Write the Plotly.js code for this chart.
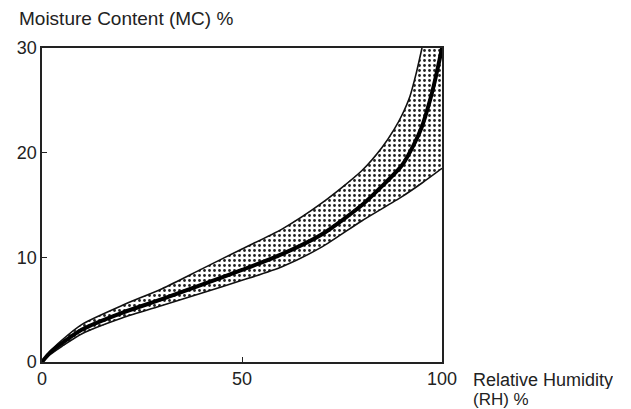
<!DOCTYPE html>
<html>
<head>
<meta charset="utf-8">
<script src="https://cdn.plot.ly/plotly-3.0.1.min.js"></script>
<style>html,body{margin:0;padding:0;background:#fff;}#chart{width:631px;height:409px;}</style>
</head>
<body>
<div id="chart"></div>
<script>
// Relative humidity (%) and moisture content (%)
const upperRH = [0, 2, 5, 10, 20, 30, 40, 50, 60, 70, 80, 85, 88, 90, 92, 93.5, 95];
const upperMC = [0, 1.0, 2.1, 3.6, 5.4, 7.0, 8.9, 10.8, 12.7, 15.2, 18.3, 20.5, 22.2, 23.6, 25.4, 27.5, 30];
const lowerRH = [0, 2, 5, 10, 20, 30, 40, 50, 60, 70, 80, 90, 95, 100];
const lowerMC = [0, 0.7, 1.5, 2.7, 4.2, 5.4, 6.6, 7.8, 9.1, 11.0, 13.5, 15.8, 17.1, 18.5];
const meanRH = [0, 2, 5, 10, 20, 30, 40, 50, 60, 70, 80, 85, 90, 93, 95, 97, 98, 99, 100];
const meanMC = [0, 0.9, 1.8, 3.1, 4.7, 6.0, 7.4, 8.8, 10.3, 12.2, 15.0, 16.8, 18.8, 20.8, 22.5, 25.0, 26.5, 28.2, 30];
const xTicks = [0, 50, 100];
const yTicks = [0, 10, 20, 30];

const bandX = upperRH.concat([100], lowerRH.slice().reverse());
const bandY = upperMC.concat([30], lowerMC.slice().reverse());

const font = 'Liberation Sans, Arial, Helvetica, sans-serif';
const sp = {shape: 'spline', smoothing: 0.7};
const traces = [
  {x: bandX, y: bandY, mode: 'lines', fill: 'toself', line: {width: 0, color: 'rgba(0,0,0,0)'},
   fillcolor: 'white',
   fillpattern: {shape: '.', fgcolor: '#222', bgcolor: 'white', size: 5, solidity: 0.25},
   hoverinfo: 'skip', showlegend: false},
  {x: upperRH, y: upperMC, mode: 'lines', line: Object.assign({color: '#111', width: 1.6}, sp), showlegend: false},
  {x: lowerRH, y: lowerMC, mode: 'lines', line: Object.assign({color: '#111', width: 1.6}, sp), showlegend: false},
  {x: meanRH, y: meanMC, mode: 'lines', line: Object.assign({color: '#000', width: 4}, sp), showlegend: false}
];

const layout = {
  width: 631, height: 409,
  margin: {l: 42, r: 189, t: 48, b: 47},
  paper_bgcolor: 'white', plot_bgcolor: 'white',
  font: {family: font, size: 18, color: '#222'},
  showlegend: false,
  xaxis: {range: [0, 100], tickvals: xTicks, ticktext: xTicks.map(String), ticks: 'inside', ticklen: 5,
          tickcolor: '#222', showgrid: false, zeroline: false, showline: true, mirror: true,
          linecolor: '#222', linewidth: 1.6, tickfont: {size: 18, family: font, color: '#222'}, fixedrange: true},
  yaxis: {range: [0, 30], tickvals: yTicks, ticktext: yTicks.map(String), ticks: 'inside', ticklen: 5,
          tickcolor: '#222', showgrid: false, zeroline: false, showline: true, mirror: true,
          linecolor: '#222', linewidth: 1.6, tickfont: {size: 18, family: font, color: '#222'}, fixedrange: true},
  annotations: [
    {text: 'Moisture Content (MC) %', xref: 'paper', yref: 'paper', x: -0.062, y: 1.0, yshift: 42,
     xanchor: 'left', yanchor: 'top', showarrow: false, font: {size: 19, family: font, color: '#222'}},
    {text: 'Relative Humidity', xref: 'paper', yref: 'paper', x: 1.0, y: 0, xshift: 30, yshift: -8,
     xanchor: 'left', yanchor: 'top', align: 'left', showarrow: false, height: 18, borderpad: 0,
     font: {size: 18, family: font, color: '#222'}},
    {text: '(RH) %', xref: 'paper', yref: 'paper', x: 1.0, y: 0, xshift: 30, yshift: -27,
     xanchor: 'left', yanchor: 'top', align: 'left', showarrow: false, height: 18, borderpad: 0,
     font: {size: 17, family: font, color: '#222'}}
  ]
};

Plotly.newPlot('chart', traces, layout, {staticPlot: true, displayModeBar: false});
</script>
</body>
</html>
